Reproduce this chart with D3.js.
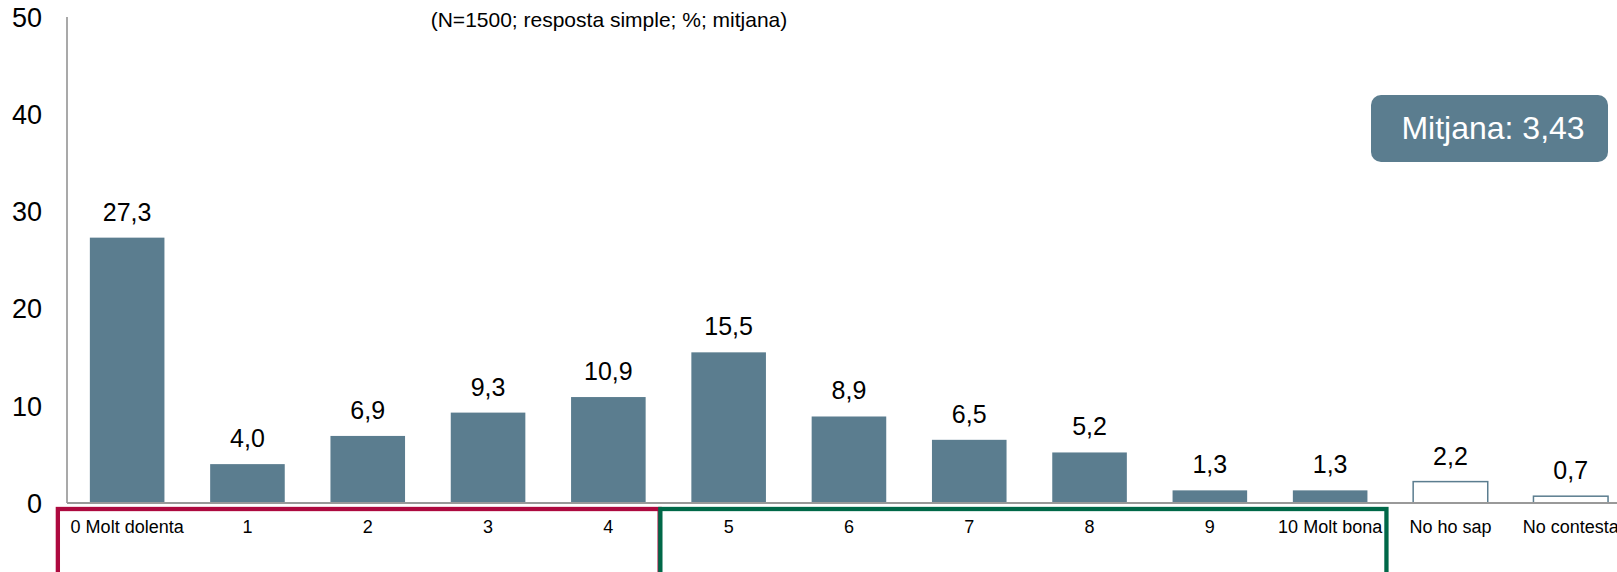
<!DOCTYPE html>
<html>
<head>
<meta charset="utf-8">
<script src="https://cdn.jsdelivr.net/npm/d3@7"></script>
<style>
  body { margin: 0; background: #fff; }
  text { font-family: Arial, "Liberation Sans", sans-serif; }
</style>
</head>
<body>
<div id="chart"></div>
<script>
// Chart data
const categories = ['0 Molt dolenta', '1', '2', '3', '4', '5', '6', '7', '8', '9', '10 Molt bona', 'No ho sap', 'No contesta'];
const values = [27.3, 4.0, 6.9, 9.3, 10.9, 15.5, 8.9, 6.5, 5.2, 1.3, 1.3, 2.2, 0.7];
const outlined = ['No ho sap', 'No contesta'];
const yTicks = [0, 10, 20, 30, 40, 50];
const subtitle = '(N=1500; resposta simple; %; mitjana)';
const meanLabel = 'Mitjana: 3,43';

const width = 1617, height = 572;
const barColor = '#5b7d8f';
const step = 120.3;
const left = 67;

const svg = d3.select('#chart').append('svg')
  .attr('width', width)
  .attr('height', height);

const x = d3.scaleBand()
  .domain(categories)
  .range([left, left + categories.length * step])
  .paddingInner(0.38)
  .paddingOuter(0.19);

const y = d3.scaleLinear()
  .domain([0, 50])
  .range([503, 17]);

// y axis line and labels
svg.append('line')
  .attr('x1', left).attr('x2', left)
  .attr('y1', y(50)).attr('y2', y(0))
  .attr('stroke', '#8c8c8c')
  .attr('stroke-width', 1.5);

svg.selectAll('.ytick')
  .data(yTicks)
  .enter().append('text')
  .attr('class', 'ytick')
  .attr('x', 42)
  .attr('y', d => y(d))
  .attr('dy', '0.36em')
  .attr('text-anchor', 'end')
  .attr('font-size', 27)
  .attr('fill', '#000')
  .text(d => d);

// subtitle
svg.append('text')
  .attr('x', 609).attr('y', 27)
  .attr('text-anchor', 'middle')
  .attr('font-size', 21)
  .text(subtitle);

// bars
svg.selectAll('.bar')
  .data(categories)
  .enter().append('rect')
  .attr('class', 'bar')
  .attr('x', d => x(d))
  .attr('width', x.bandwidth())
  .attr('y', (d, i) => y(values[i]))
  .attr('height', (d, i) => y(0) - y(values[i]))
  .attr('fill', d => outlined.includes(d) ? '#fff' : barColor)
  .attr('stroke', d => outlined.includes(d) ? barColor : 'none')
  .attr('stroke-width', 1.5);

// baseline
svg.append('line')
  .attr('x1', left).attr('x2', width)
  .attr('y1', y(0)).attr('y2', y(0))
  .attr('stroke', '#999')
  .attr('stroke-width', 2);

// value labels
svg.selectAll('.val')
  .data(categories)
  .enter().append('text')
  .attr('class', 'val')
  .attr('x', d => x(d) + x.bandwidth() / 2)
  .attr('y', (d, i) => y(values[i]) - 17)
  .attr('text-anchor', 'middle')
  .attr('font-size', 25)
  .text((d, i) => values[i].toFixed(1).replace('.', ','));

// category labels
svg.selectAll('.cat')
  .data(categories)
  .enter().append('text')
  .attr('class', 'cat')
  .attr('x', d => x(d) + x.bandwidth() / 2)
  .attr('y', 533)
  .attr('text-anchor', 'middle')
  .attr('font-size', 18)
  .text(d => d);

// group brackets below the axis
const brackets = [
  { from: '0 Molt dolenta', to: '4', padL: 32, padR: 14, color: '#ad0a3f' },
  { from: '5', to: '10 Molt bona', padL: 31, padR: 19, color: '#006848' }
];
svg.selectAll('.bracket')
  .data(brackets)
  .enter().append('rect')
  .attr('class', 'bracket')
  .attr('x', d => x(d.from) - d.padL)
  .attr('y', 509)
  .attr('width', d => x(d.to) + x.bandwidth() + d.padR - x(d.from) + d.padL)
  .attr('height', 120)
  .attr('fill', 'none')
  .attr('stroke', d => d.color)
  .attr('stroke-width', 4.3);

// mean badge
svg.append('rect')
  .attr('x', 1371).attr('y', 95)
  .attr('width', 237).attr('height', 67)
  .attr('rx', 10)
  .attr('fill', barColor);
svg.append('text')
  .attr('x', 1493).attr('y', 139)
  .attr('text-anchor', 'middle')
  .attr('font-size', 32)
  .attr('fill', '#fff')
  .text(meanLabel);
</script>
</body>
</html>
